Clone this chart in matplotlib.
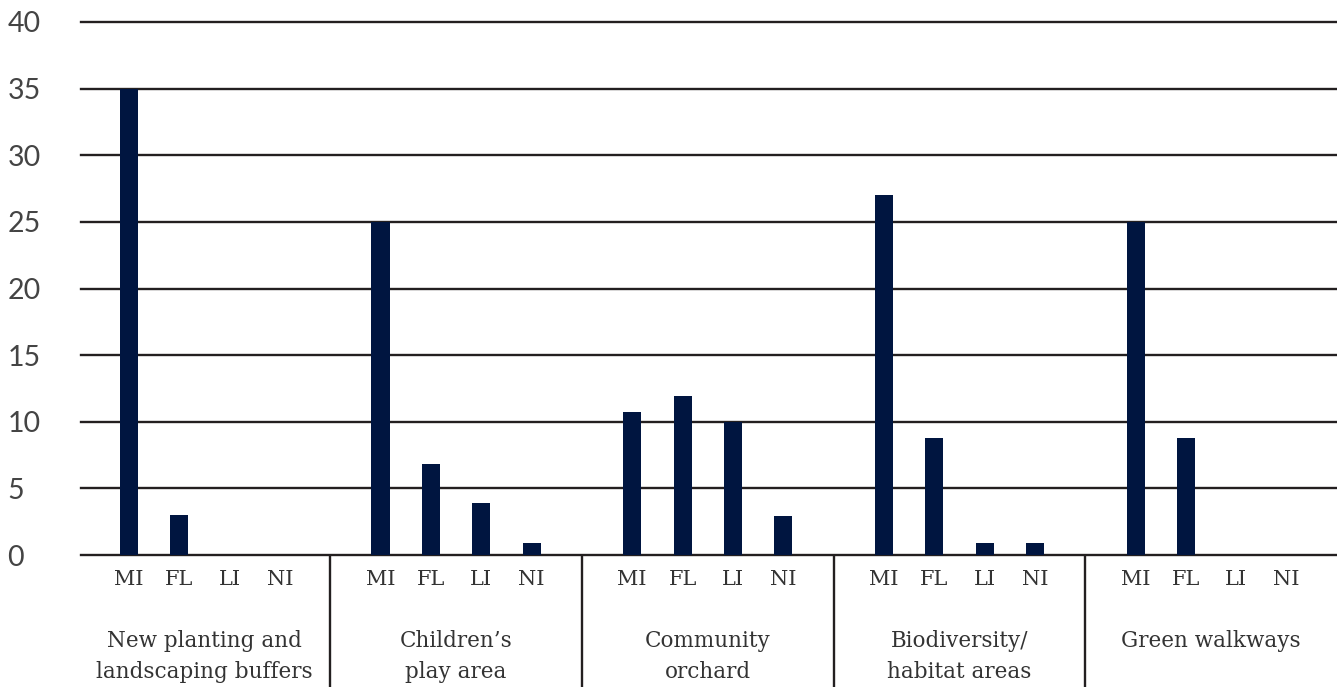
import numpy as np
import matplotlib.pyplot as plt

# survey responses per theme, split by MI / FL / LI / NI
groups = ["New planting and\nlandscaping buffers", "Children\u2019s\nplay area",
          "Community\norchard", "Biodiversity/\nhabitat areas", "Green walkways"]
responses = ["MI", "FL", "LI", "NI"]

new_planting = [35, 3, 0, 0]
childrens_play = [25, 6.8, 3.9, 0.9]
community_orchard = [10.7, 11.9, 10, 2.9]
biodiversity = [27, 8.8, 0.9, 0.9]
green_walkways = [25, 8.8, 0, 0]

series = [new_planting, childrens_play, community_orchard, biodiversity, green_walkways]

bar_color = "#001540"
line_color = "#231f20"
text_color = "#333333"

fig = plt.figure(figsize=(13.37, 6.87), dpi=100)
ax = fig.add_axes([0.0606, 0.192, 0.9394, 0.776])

xs, heights, labels = [], [], []
for g, vals in enumerate(series):
    for i, v in enumerate(vals):
        xs.append(g * 5 + i + 1)
        heights.append(v)
        labels.append(responses[i])

ax.bar(xs, heights, width=0.36, color=bar_color, zorder=3)

ax.set_xlim(0.05, 25)
ax.set_ylim(0, 40)
ax.set_yticks(np.arange(0, 41, 5))
for y in np.arange(0, 41, 5):
    ax.axhline(y, color=line_color, lw=1.7, zorder=2, clip_on=False)

for s in ax.spines.values():
    s.set_visible(False)

ax.set_xticks(xs)
ax.set_xticklabels(labels, family="DejaVu Serif", fontsize=15, color=text_color)
ax.tick_params(axis="x", length=0, pad=11)
ax.tick_params(axis="y", length=0, pad=53, labelsize=20.5, labelcolor="#444444")
for lab in ax.get_yticklabels():
    lab.set_horizontalalignment("left")
    lab.set_family("Lato")

trans = ax.get_xaxis_transform()
# separators between the themes
ax.vlines([5, 10, 15, 20], 0, -0.26, transform=trans, color=line_color,
          lw=1.7, clip_on=False)

for g, name in enumerate(groups):
    ax.text(g * 5 + 2.5, -0.14, name, transform=trans, ha="center", va="top",
            family="DejaVu Serif", fontsize=15.5, color=text_color,
            linespacing=1.55)

fig.savefig("out.png", dpi=100)
